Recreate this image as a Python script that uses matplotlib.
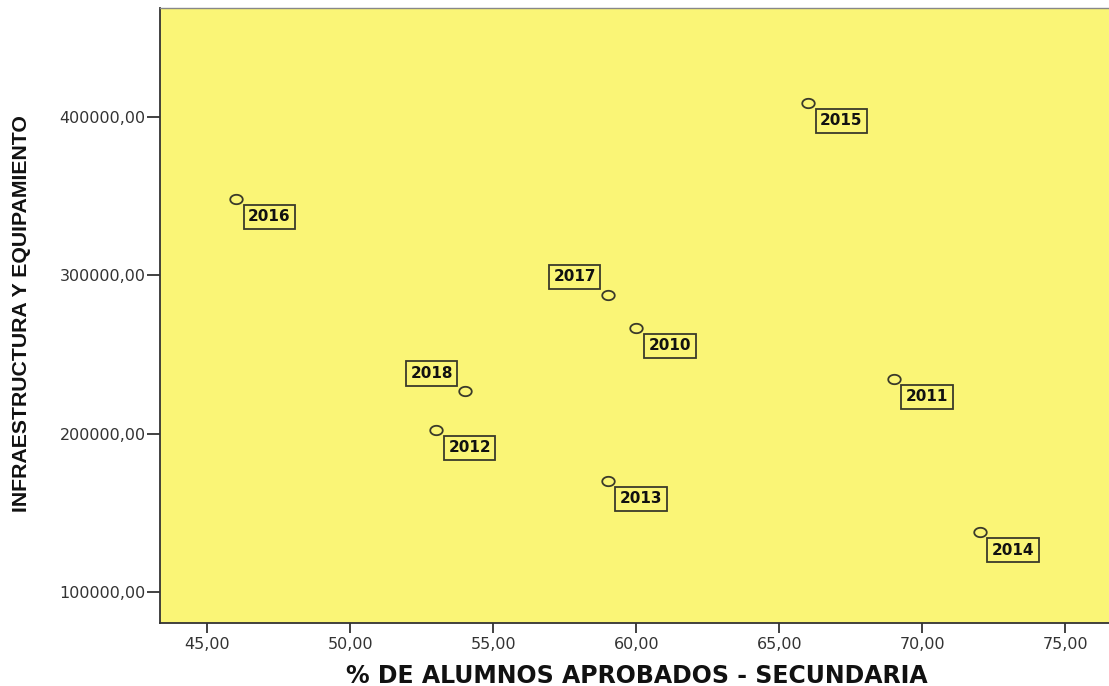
import matplotlib
matplotlib.use("Agg")
import numpy as np
import matplotlib.pyplot as plt
from matplotlib.ticker import FuncFormatter
from matplotlib.path import Path

years = ["2010", "2011", "2012", "2013", "2014", "2015", "2016", "2017", "2018"]
aprobados = [60.0, 69.0, 53.0, 59.0, 72.0, 66.0, 46.0, 59.0, 54.0]
infraestructura = [267000, 234600, 202400, 170100, 137700, 409200, 348400, 287700, 226600]
# label side: +1 lower-right, -1 upper-left
label_side = [1, 1, 1, 1, 1, 1, 1, -1, -1]

x_ticks = [45, 50, 55, 60, 65, 70, 75]
y_ticks = [100000, 200000, 300000, 400000]

plt.rcParams['font.family'] = ['DejaVu Sans']

YELLOW = '#FAF576'
EDGE = '#3a3a2a'

# slightly wide ellipse marker (as in the reference)
t = np.linspace(0, 2 * np.pi, 60)
ellipse = Path(np.column_stack([1.33 * np.cos(t), np.sin(t)]), closed=True)

fig = plt.figure(figsize=(11.09, 6.86), dpi=100)
ax = fig.add_axes([160/1109, 63.3/686, 1 - 160/1109 + 0.002, (622.7 - 7.5)/686])
ax.set_facecolor(YELLOW)

ax.plot(aprobados, infraestructura, linestyle='none', marker=ellipse, markersize=9,
        markerfacecolor='none', markeredgecolor=EDGE, markeredgewidth=1.3)

for x, y, lab, s in zip(aprobados, infraestructura, years, label_side):
    ax.annotate(lab, (x, y), xytext=(24 * s, -13 * s), textcoords='offset points',
                ha='center', va='center', fontsize=11, fontweight='bold', color='#111111',
                bbox=dict(boxstyle='square,pad=0.3', facecolor=YELLOW,
                          edgecolor=EDGE, linewidth=1.3))

ax.set_xlim(43.34, 76.6)
ax.set_ylim(80400, 469400)
ax.set_xticks(x_ticks)
ax.set_yticks(y_ticks)
fmt = FuncFormatter(lambda v, p: f"{v:.2f}".replace('.', ','))
ax.xaxis.set_major_formatter(fmt)
ax.yaxis.set_major_formatter(fmt)
ax.tick_params(axis='both', direction='out', width=1.3, color='#333333',
               labelsize=11.5, labelcolor='#333333')
ax.tick_params(axis='x', length=7.2, pad=3)
ax.tick_params(axis='y', length=9.4, pad=1)

for side in ['left', 'bottom']:
    ax.spines[side].set_color('#333333')
    ax.spines[side].set_linewidth(1.3)
ax.spines['top'].set_color('#888888')
ax.spines['top'].set_linewidth(1.0)
ax.spines['right'].set_visible(False)

ax.set_xlabel('% DE ALUMNOS APROBADOS - SECUNDARIA', fontsize=17, fontweight='bold',
              color='#111111')
ax.set_ylabel('INFRAESTRUCTURA Y EQUIPAMIENTO', fontsize=15.3, fontweight='bold',
              color='#111111', family=['Liberation Sans', 'DejaVu Sans'])
ax.xaxis.set_label_coords((636 - 160) / 949, (622.7 - 676) / 615.2)
ax.yaxis.set_label_coords((22 - 160) / 949, (622.7 - 313.5) / 615.2)
ax.xaxis.label.set_va('center')
ax.yaxis.label.set_va('center')

fig.savefig('out.png', dpi=100)
